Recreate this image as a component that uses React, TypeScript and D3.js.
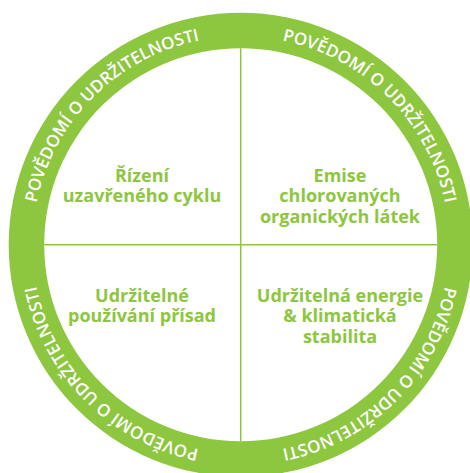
import React from 'react'
import * as d3 from 'd3'

const ringLabel = 'POVĚDOMÍ O UDRŽITELNOSTI'
const ringCount = 4
const quadrants = ['top-left', 'top-right', 'bottom-left', 'bottom-right']
const quadrantLines = [
  ['Řízení', 'uzavřeného cyklu'],
  ['Emise', 'chlorovaných', 'organických látek'],
  ['Udržitelné', 'používání přísad'],
  ['Udržitelná energie', '& klimatická', 'stabilita'],
]

const width = 470
const height = 473
const cx = 240.7
const cy = 244.8
const outerR = 232
const innerR = 196.5
const green = '#8dc63f'

const App = () => {
  const ring = d3.arc()({
    innerRadius: innerR,
    outerRadius: outerR,
    startAngle: 0,
    endAngle: 2 * Math.PI,
  })

  // circle path for the ring text, starts at 12 o'clock going clockwise
  const textR = 208.5
  const circlePath = `M0,${-textR}A${textR},${textR} 0 1 1 0,${textR}A${textR},${textR} 0 1 1 0,${-textR}`
  const circumference = 2 * Math.PI * textR
  const angle = d3.scaleLinear().domain([0, ringCount]).range([45, 405])
  const arcSpan = 67

  const qx = d3.scaleOrdinal().domain(['left', 'right']).range([-98.7, 99.3])
  const qy = d3.scaleOrdinal().domain(['top', 'bottom']).range([-63, 57])
  const lineHeight = 20.5

  return (
    <div style={{ position: 'fixed', left: 0, top: 0 }}>
      <svg width={width} height={height} style={{ display: 'block' }}>
        <rect width={width} height={height} fill="white" />
        <g transform={`translate(${cx},${cy})`}>
          <path d={ring} fill={green} />
          <line x1={0} x2={0} y1={-innerR} y2={innerR} stroke={green} strokeWidth={1.5} />
          <line x1={-innerR} x2={innerR} y1={0} y2={0} stroke={green} strokeWidth={1.5} />
          <path id="ringPath" d={circlePath} fill="none" />
          {d3.range(ringCount).map(i => {
            const a = angle(i) % 360
            return (
              <text
                key={i}
                fill="white"
                fontFamily="'Open Sans', sans-serif"
                fontWeight={600}
                fontSize={17}
                textAnchor="middle"
                textLength={(arcSpan * Math.PI / 180) * textR}
                lengthAdjust="spacing"
              >
                <textPath href="#ringPath" startOffset={(a / 360) * circumference}>
                  {ringLabel}
                </textPath>
              </text>
            )
          })}
          {quadrants.map((q, i) => {
            const [v, h] = q.split('-')
            return (
              <g key={q}>
                {quadrantLines[i].map((line, j) => (
                  <text
                    key={j}
                    x={qx(h)}
                    y={qy(v) + j * lineHeight}
                    fill={green}
                    fontFamily="'Open Sans', sans-serif"
                    fontWeight={700}
                    fontSize={18}
                    textAnchor="middle"
                  >
                    {line}
                  </text>
                ))}
              </g>
            )
          })}
        </g>
      </svg>
    </div>
  )
}

export default App
